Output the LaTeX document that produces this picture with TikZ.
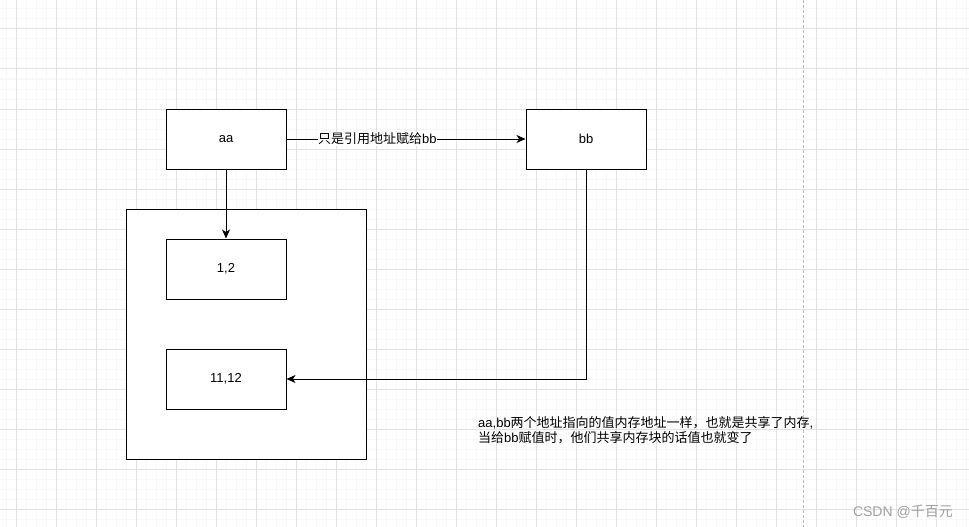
\documentclass[tikz,border=0pt]{standalone}
\usepackage{fontspec}
\setmainfont{Liberation Sans}
\newfontfamily\cjk{Noto Sans CJK SC}
\usetikzlibrary{arrows.meta,positioning}
\definecolor{gridminor}{RGB}{248,248,248}
\definecolor{gridmajor}{RGB}{226,226,226}
\definecolor{pagedash}{RGB}{185,185,185}
\definecolor{markgray}{RGB}{160,160,160}
\tikzset{
  membox/.style={draw, line width=1pt, fill=white, minimum width=120pt, minimum height=60pt, inner sep=0pt},
  heapbox/.style={draw, line width=1pt, fill=white, minimum width=240pt, minimum height=250pt, inner sep=0pt},
  link/.style={line width=1pt, -{Stealth[length=9pt,width=8pt,inset=2.5pt]}},
  txt/.style={font=\fontsize{13}{14.5}\selectfont}
}

\begin{document}
\begin{tikzpicture}[x=1pt, y=-1pt, txt]
  \useasboundingbox (0,0) rectangle (969,527);
  \fill[white] (0,0) rectangle (969,527);

  % background grid
  \foreach \gx in {6.5,16.5,...,966.5}
    \draw[gridminor, line width=1pt] (\gx,0) -- (\gx,527);
  \foreach \gy in {9,19,...,519}
    \draw[gridminor, line width=1pt] (0,\gy) -- (969,\gy);
  \foreach \gx in {16.5,56.5,...,966.5}
    \draw[gridmajor, line width=1pt] (\gx,0) -- (\gx,527);
  \foreach \gy in {29,69,...,509}
    \draw[gridmajor, line width=1pt] (0,\gy) -- (969,\gy);
  \draw[pagedash, line width=1pt, dash pattern=on 3pt off 2pt] (803.5,0) -- (803.5,527);

  % memory
  \node[heapbox] (heap) at (246,334) {};
  \node[membox] (aa) at (226,139) {aa};
  \node[membox] (bb) at (586,139) {bb};
  \node[membox] (v1) at (226,269) {1,2};
  \node[membox] (v2) at (226,379) {11,12};

  \draw[link] (aa) -- node[pos=0.38, fill=white, inner sep=0.5pt] {{\cjk 只是引用地址赋给}bb} (bb);
  \draw[link] (aa) -- (v1);
  \draw[link] (bb.south) |- (v2.east);

  \node[anchor=west, align=left, inner sep=0pt] (note) at (478,430)
    {aa,bb{\cjk 两个地址指向的值内存地址一样，也就是共享了内存},\\
     {\cjk 当给}bb{\cjk 赋值时，他们共享内存块的话值也就变了}};

  \node[anchor=east, inner sep=0pt, text=markgray, font=\fontsize{14}{16}\selectfont] (mark) at (953,512)
    {CSDN @{\cjk 千百元}};
\end{tikzpicture}
\end{document}
